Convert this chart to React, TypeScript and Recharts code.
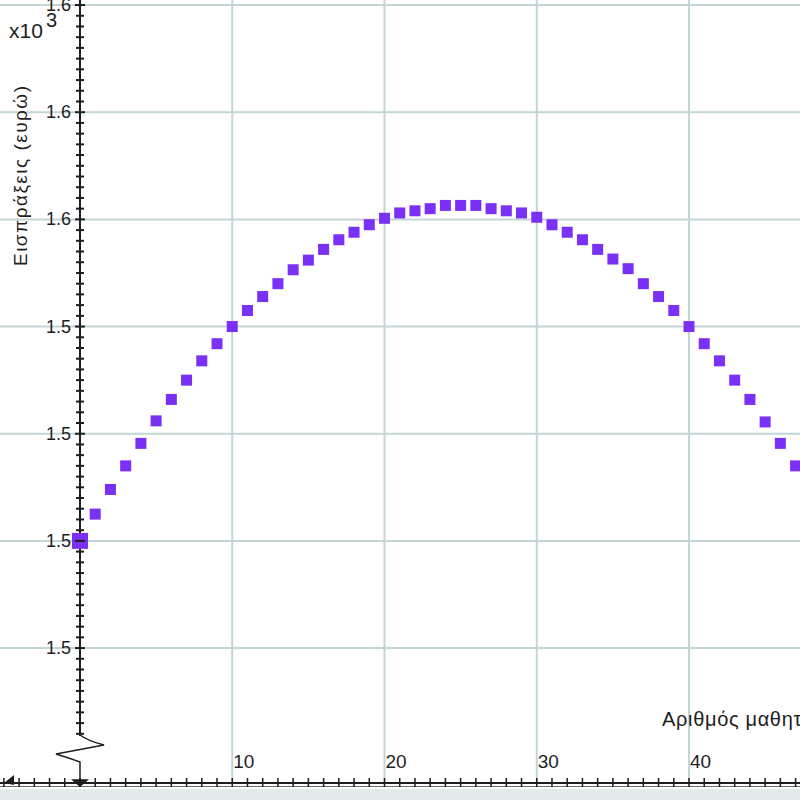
import React from "react";
import {
  ScatterChart,
  Scatter,
  XAxis,
  YAxis,
  ReferenceLine,
  ReferenceDot,
} from "recharts";

// number of extra students (x) and takings in euro (y)
const STUDENTS = [
  0, 1, 2, 3, 4, 5, 6, 7, 8, 9, 10, 11, 12, 13, 14, 15, 16, 17, 18, 19, 20, 21,
  22, 23, 24, 25, 26, 27, 28, 29, 30, 31, 32, 33, 34, 35, 36, 37, 38, 39, 40,
  41, 42, 43, 44, 45, 46, 47,
];
const REVENUE = [
  1520.0, 1522.5, 1524.8, 1527.0, 1529.1, 1531.2, 1533.2, 1535.0, 1536.8,
  1538.4, 1540.0, 1541.5, 1542.8, 1544.0, 1545.3, 1546.2, 1547.2, 1548.1,
  1548.8, 1549.5, 1550.1, 1550.6, 1550.8, 1551.0, 1551.3, 1551.3, 1551.3,
  1551.0, 1550.8, 1550.6, 1550.2, 1549.5, 1548.8, 1548.1, 1547.2, 1546.3,
  1545.4, 1544.0, 1542.8, 1541.5, 1540.0, 1538.4, 1536.8, 1535.0, 1533.2,
  1531.1, 1529.1, 1527.0,
];

const X_GRID = [10, 20, 30, 40];
const X_LABELED = [10, 20, 30, 40];
const Y_GRID = [1510, 1520, 1530, 1540, 1550, 1560, 1570];

const X_TITLE = "Αριθμός μαθητών";
const Y_TITLE = "Εισπράξεις (ευρώ)";

// visible window of the zoomed-in graph
const X_MIN = -5.254;
const X_MAX = 47.29;
const Y_MIN = 1497.41;
const Y_MAX = 1570.47;
const Y_AXIS_START = 1501.8; // where the axis break begins

const W = 800;
const H = 800;
const X_AXIS_H = 17;
const PLOT_BOTTOM = H - X_AXIS_H;
const AXIS_X = ((0 - X_MIN) / (X_MAX - X_MIN)) * W;

const FONT = "'Liberation Sans', Arial, sans-serif";
const INK = "#1e1e1e";
const GRID = "#c3d5d5";
const PURPLE = "#7a30f5";

const points = STUDENTS.map((x, i) => ({ x, y: REVENUE[i] }));

const xTicks: number[] = [];
for (let v = -5; v <= 47; v++) xTicks.push(v);
const yTicks: number[] = [];
for (let v = 1502; v <= 1570; v++) yTicks.push(v);

function XTick(props: any) {
  const { x, payload } = props;
  const v = payload.value;
  return (
    <g>
      <line x1={x} x2={x} y1={PLOT_BOTTOM - 5} y2={PLOT_BOTTOM + 4} stroke={INK} strokeWidth={1.5} />
      {X_LABELED.includes(v) && (
        <text x={x + 1} y={PLOT_BOTTOM - 15} fontSize={19} fontFamily={FONT} fill={INK}>
          {v}
        </text>
      )}
    </g>
  );
}

function YTick(props: any) {
  const { y, payload } = props;
  const v = payload.value;
  const major = Y_GRID.includes(v);
  const half = major ? 5 : 4;
  return (
    <g>
      <line x1={AXIS_X - half} x2={AXIS_X + half} y1={y} y2={y} stroke={INK} strokeWidth={2} />
      {major && (
        <text
          x={AXIS_X - 9}
          y={y + 6}
          textAnchor="end"
          fontSize={18}
          fontFamily={FONT}
          fill={INK}
        >
          {(v / 1000).toFixed(1)}
        </text>
      )}
    </g>
  );
}

const square = (side: number) => (props: any) => (
  <rect
    x={props.cx - side / 2}
    y={props.cy - side / 2}
    width={side}
    height={side}
    fill={PURPLE}
  />
);

// axis break zigzag at the foot of the y axis
const AxisBreak = (props: any) => {
  const { cx, cy } = props;
  return (
    <g fill="none" stroke={INK} strokeWidth={1.5}>
      <path
        d={`M${cx} ${cy - 48} Q${cx + 8} ${cy - 42} ${cx + 24} ${cy - 38} L${cx - 24} ${cy - 29} Q${cx - 8} ${cy - 24} ${cx} ${cy - 21} L${cx} ${cy}`}
      />
      <path d={`M${cx - 7} ${cy - 3} L${cx + 7} ${cy - 3} L${cx} ${cy + 3} Z`} fill={INK} />
    </g>
  );
};

const LeftArrow = (props: any) => {
  const { cx, cy } = props;
  return <path d={`M${cx + 4} ${cy} L${cx + 14} ${cy - 8} L${cx + 14} ${cy + 2} Z`} fill={INK} />;
};

export default function App() {
  return (
    <div
      style={{
        position: "absolute",
        left: 0,
        top: 0,
        width: W,
        height: H,
        background: `linear-gradient(to bottom, #ffffff 0px, #ffffff 786px, #6a6a6a 786px, #6a6a6a 787px, #ffffff 787px, #ffffff 789px, #e3eaea 789px)`,
      }}
    >
      <ScatterChart width={W} height={H} margin={{ top: 0, right: 0, bottom: 0, left: 0 }}>
        {Y_GRID.map((v) => (
          <ReferenceLine key={`h${v}`} y={v} stroke={GRID} strokeWidth={2} />
        ))}
        {X_GRID.map((v) => (
          <ReferenceLine key={`v${v}`} x={v} stroke={GRID} strokeWidth={2} />
        ))}
        <XAxis
          type="number"
          dataKey="x"
          domain={[X_MIN, X_MAX]}
          allowDataOverflow
          ticks={xTicks}
          interval={0}
          height={X_AXIS_H}
          tickLine={false}
          axisLine={{ stroke: INK, strokeWidth: 2 }}
          tick={<XTick />}
          label={{
            content: () => (
              <text
                x={662}
                y={726}
                fontSize={20}
                fontFamily={FONT}
                fill={INK}
                textLength={166}
                lengthAdjust="spacing"
              >
                {X_TITLE}
              </text>
            ),
          }}
        />
        <YAxis
          type="number"
          dataKey="y"
          domain={[Y_MIN, Y_MAX]}
          allowDataOverflow
          ticks={yTicks}
          interval={0}
          mirror
          width={60}
          tickLine={false}
          axisLine={false}
          tick={<YTick />}
          label={{
            content: () => (
              <g fontFamily={FONT} fill={INK}>
                <text
                  x={27}
                  y={176}
                  transform="rotate(-90 27 176)"
                  textAnchor="middle"
                  fontSize={19}
                  textLength={180}
                  lengthAdjust="spacing"
                >
                  {Y_TITLE}
                </text>
                <text x={9} y={38} fontSize={21}>
                  x10
                </text>
                <text x={46} y={27} fontSize={20}>
                  3
                </text>
              </g>
            ),
          }}
        />
        <ReferenceLine
          segment={[
            { x: 0, y: Y_AXIS_START },
            { x: 0, y: Y_MAX },
          ]}
          stroke={INK}
          strokeWidth={2}
        />
        <ReferenceDot x={0} y={Y_MIN} r={1} shape={AxisBreak} ifOverflow="visible" />
        <ReferenceDot x={X_MIN} y={Y_MIN} r={1} shape={LeftArrow} ifOverflow="visible" />
        <Scatter data={points} shape={square(11)} isAnimationActive={false} />
        <Scatter data={points.slice(0, 1)} shape={square(16)} isAnimationActive={false} />
      </ScatterChart>
    </div>
  );
}
